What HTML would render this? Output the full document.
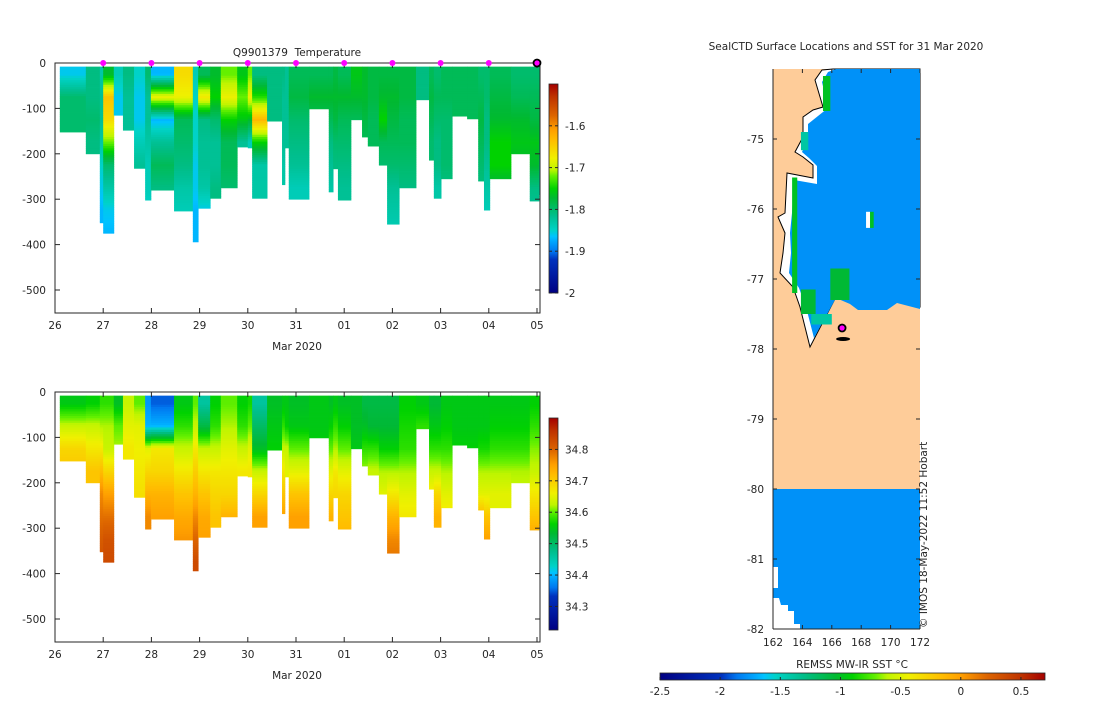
<!DOCTYPE html>
<html><head><meta charset="utf-8">
<style>
body{margin:0;background:#fff;}
svg text{font-family:"DejaVu Sans","Liberation Sans",sans-serif;font-size:10.5px;fill:#262626;white-space:pre;}
</style></head>
<body>
<svg id="fig" width="1100" height="700" viewBox="0 0 1100 700" xmlns="http://www.w3.org/2000/svg">
<defs>
<linearGradient id="cbV" x1="0" y1="1" x2="0" y2="0"></linearGradient>
<linearGradient id="cbH" x1="0" y1="0" x2="1" y2="0"></linearGradient>
</defs>
<g id="top"></g>
<g id="bot"></g>
<g id="map"></g>
</svg>
<script>
// ---------- data ----------
const profDays = [0.10,0.64,0.93,1.00,1.22,1.41,1.64,1.87,1.99,2.47,2.86,2.97,3.22,3.44,3.78,4.00,4.09,4.40,4.71,4.77,4.85,5.27,5.68,5.77,5.87,6.14,6.37,6.49,6.72,6.89,7.14,7.49,7.76,7.86,8.01,8.24,8.55,8.78,8.90,9.02,9.46,9.85,10.04];
const profEnd = 10.06;
const profDepth = [152,200,352,375,115,148,232,302,280,326,394,320,298,275,185,187,298,128,268,187,300,101,284,233,302,125,163,183,225,355,275,81,214,298,255,117,123,260,324,255,200,304,290];
const tempBins = [
[-1.86,-1.8,-1.8,-1.8],[-1.81,-1.81,-1.8,-1.81],[-1.83,-1.82,-1.82,-1.83,-1.85,-1.86,-1.87,-1.87],
[-1.77,-1.64,-1.66,-1.72,-1.8,-1.83,-1.86,-1.87],[-1.84,-1.86,-1.86],[-1.81,-1.82,-1.82],
[-1.85,-1.86,-1.86,-1.84,-1.82],[-1.8,-1.82,-1.82,-1.83,-1.84,-1.84,-1.85],[-1.87,-1.68,-1.87,-1.82,-1.79,-1.81],
[-1.66,-1.68,-1.79,-1.8,-1.81,-1.83,-1.84],[-1.84,-1.85,-1.85,-1.85,-1.86,-1.86,-1.87,-1.87],[-1.79,-1.67,-1.81,-1.82,-1.82,-1.83,-1.86],
[-1.77,-1.75,-1.8,-1.82,-1.82,-1.81],[-1.72,-1.68,-1.75,-1.79,-1.79,-1.8],[-1.76,-1.72,-1.76,-1.82],
[-1.72,-1.68,-1.77,-1.84],[-1.81,-1.74,-1.63,-1.75,-1.83,-1.83],[-1.81,-1.81,-1.81],
[-1.81,-1.82,-1.82,-1.82,-1.83,-1.83],[-1.82,-1.82,-1.82,-1.82],[-1.79,-1.78,-1.8,-1.81,-1.82,-1.84],
[-1.79,-1.77,-1.79],[-1.79,-1.77,-1.79,-1.81,-1.82,-1.83],[-1.78,-1.77,-1.78,-1.8,-1.81],
[-1.79,-1.77,-1.79,-1.8,-1.81,-1.82,-1.82],[-1.76,-1.77,-1.79],[-1.77,-1.77,-1.78,-1.79],
[-1.78,-1.78,-1.79,-1.79],[-1.78,-1.77,-1.75,-1.79,-1.8],[-1.78,-1.77,-1.78,-1.79,-1.8,-1.82,-1.83,-1.84],
[-1.78,-1.78,-1.79,-1.79,-1.8,-1.81],[-1.81,-1.81],[-1.79,-1.78,-1.79,-1.8,-1.8],
[-1.8,-1.79,-1.8,-1.81,-1.81,-1.83],[-1.79,-1.79,-1.8,-1.8,-1.8,-1.81],[-1.79,-1.79,-1.79],
[-1.79,-1.79,-1.79],[-1.8,-1.79,-1.78,-1.79,-1.8,-1.81],[-1.8,-1.8,-1.81,-1.81,-1.82,-1.83,-1.84],
[-1.79,-1.78,-1.77,-1.75,-1.75,-1.78],[-1.8,-1.79,-1.77,-1.76,-1.77],[-1.8,-1.79,-1.78,-1.76,-1.77,-1.81,-1.82],
[-1.8,-1.79,-1.78,-1.79,-1.81,-1.82]];
const salBins = [
[34.55,34.63,34.69,34.71],[34.56,34.63,34.67,34.71],[34.58,34.62,34.67,34.72,34.77,34.79,34.81,34.82],
[34.58,34.62,34.63,34.69,34.75,34.79,34.82,34.83],[34.54,34.6,34.62],[34.63,34.65,34.67],
[34.6,34.65,34.66,34.67,34.68],[34.38,34.4,34.65,34.69,34.73,34.77,34.77],[34.35,34.4,34.67,34.69,34.73,34.75],
[34.55,34.58,34.63,34.67,34.71,34.74,34.76],[34.6,34.63,34.67,34.7,34.73,34.77,34.8,34.83],[34.46,34.52,34.63,34.67,34.71,34.74,34.75],
[34.56,34.58,34.63,34.67,34.69,34.71],[34.6,34.62,34.65,34.67,34.69,34.73],[34.56,34.58,34.63,34.67],
[34.57,34.6,34.65,34.67],[34.46,34.5,34.54,34.63,34.69,34.75],[34.54,34.55,34.56],
[34.55,34.58,34.63,34.67,34.71,34.75],[34.55,34.56,34.63,34.65],[34.54,34.55,34.6,34.65,34.71,34.75],
[34.55,34.55,34.56],[34.54,34.56,34.6,34.65,34.69,34.73],[34.55,34.58,34.62,34.67,34.69],
[34.54,34.56,34.6,34.65,34.69,34.71,34.73],[34.54,34.54,34.55],[34.52,34.54,34.58,34.62],
[34.52,34.53,34.58,34.63],[34.52,34.53,34.56,34.62,34.65],[34.52,34.53,34.56,34.62,34.67,34.73,34.77,34.79],
[34.56,34.57,34.58,34.62,34.65,34.67],[34.55,34.58],[34.53,34.55,34.58,34.63,34.67],
[34.53,34.55,34.58,34.63,34.69,34.73],[34.55,34.56,34.58,34.62,34.65,34.67],[34.55,34.55,34.56],
[34.55,34.55,34.56],[34.55,34.55,34.57,34.62,34.65,34.73],[34.55,34.55,34.57,34.62,34.65,34.71,34.75],
[34.55,34.56,34.58,34.62,34.65,34.65],[34.55,34.56,34.58,34.62,34.63],[34.56,34.58,34.61,34.63,34.67,34.71,34.75],
[34.56,34.58,34.61,34.63,34.67,34.71]];
const dayLabels = ["26","27","28","29","30","31","01","02","03","04","05"];
const depthTicks = [0,-100,-200,-300,-400,-500];
const tempTicks = [-1.6,-1.7,-1.8,-1.9,-2];
const salTicks = [34.8,34.7,34.6,34.5,34.4,34.3];
const markerDays = [1,2,3,4,5,6,7,8,9];
const lastMarkerDay = 10;
const latTicks = [-75,-76,-77,-78,-79,-80,-81,-82];
const lonTicks = [162,164,166,168,170,172];
const sstTicks = [-2.5,-2,-1.5,-1,-0.5,0,0.5];
const oceanSST = -1.78;
// [lon0, lat0, lon1, lat1, sst]
const sstCells = [
[163.3,-75.55,163.65,-77.2,-1.0],[165.4,-74.1,165.9,-74.6,-1.0],[163.9,-74.9,164.4,-75.16,-1.4],
[163.9,-77.15,164.9,-77.5,-1.05],[165.9,-76.85,167.2,-77.3,-1.05],[164.6,-77.5,166.0,-77.65,-1.4],
[168.6,-76.04,168.85,-76.27,-1.0]];
const whiteCells = [[168.33,-76.04,168.6,-76.27]];
const shipLon = 166.7, shipLat = -77.7;

// ---------- helpers ----------
const NS="http://www.w3.org/2000/svg";
const stops=[[0,[0,0,130]],[0.16,[0,50,190]],[0.2,[0,120,240]],[0.25,[0,170,255]],[0.27,[0,195,255]],[0.3,[0,210,200]],[0.37,[0,190,140]],[0.455,[0,185,50]],[0.5,[0,210,0]],[0.56,[100,240,0]],[0.59,[190,245,0]],[0.645,[240,240,0]],[0.73,[255,190,0]],[0.78,[255,160,0]],[0.85,[220,100,0]],[0.94,[190,50,0]],[1,[165,0,0]]];
function cmap(t){t=Math.max(0,Math.min(1,t));for(let i=1;i<stops.length;i++){if(t<=stops[i][0]){const a=stops[i-1],b=stops[i],f=(t-a[0])/(b[0]-a[0]);return 'rgb('+a[1].map((v,k)=>Math.round(v+(b[1][k]-v)*f)).join(',')+')';}}return 'rgb(165,0,0)';}
function mk(tag,attrs,parent,txt){const e=document.createElementNS(NS,tag);for(const k in attrs)e.setAttribute(k,attrs[k]);if(txt!==undefined)e.textContent=txt;parent.appendChild(e);return e;}
['cbV','cbH'].forEach(id=>{const g=document.getElementById(id);stops.forEach(s=>mk('stop',{offset:s[0],'stop-color':cmap(s[0])},g));});

const X0=55,X1=540,PX=48.2;
const xD=d=>X0+d*PX;
function panel(gid,top,bins,vmin,vmax,cbTicks,cbTop,cbBot,title,name){
  const g=document.getElementById(gid);
  const yD=z=>top+z*0.454;
  const bottom=top+250;
  const data=mk('g',{},g);
  
  
  for(let i=0;i<profDays.length;i++){
    const x0=xD(profDays[i]),x1=xD(i+1<profDays.length?profDays[i+1]:profEnd);
    const b=bins[i],dep=profDepth[i];
    const col=mk('g',{},data);
    
    
    for(let z=8;z<dep;z+=5){
      const zc=z+2.5;let f=(zc-25)/50;let k=Math.floor(f);let v;
      if(k<0)v=b[0];else if(k>=b.length-1)v=b[b.length-1];else v=b[k]+(b[k+1]-b[k])*(f-k);
      const ze=Math.min(z+5,dep);
      mk('rect',{x:x0,y:yD(z),width:x1-x0+0.4,height:yD(ze)-yD(z)+0.4,fill:cmap((v-vmin)/(vmax-vmin))},col);
    }
  }
  const ax=mk('g',{fill:'none',stroke:'#262626','stroke-width':1},g);
  
  
  mk('rect',{x:X0,y:top,width:X1-X0,height:250},ax);
  dayLabels.forEach((l,i)=>{const x=xD(i);mk('line',{x1:x,x2:x,y1:top,y2:top+5},ax);mk('line',{x1:x,x2:x,y1:bottom,y2:bottom-5},ax);
    const t=mk('text',{x:x,y:bottom+16,'text-anchor':'middle'},g,l);});
  depthTicks.forEach(d=>{const y=yD(-d);mk('line',{x1:X0,x2:X0+5,y1:y,y2:y},ax);mk('line',{x1:X1,x2:X1-5,y1:y,y2:y},ax);
    const t=mk('text',{x:X0-9,y:y+4,'text-anchor':'end'},g,String(d));});
  const xl=mk('text',{x:297,y:bottom+37,'text-anchor':'middle'},g,'Mar 2020');
  if(title){const t=mk('text',{x:297,y:top-7,'text-anchor':'middle'},g,title);}
  const cb=mk('g',{},g);
  mk('rect',{x:549,y:cbTop,width:9,height:cbBot-cbTop,fill:'url(#cbV)',stroke:'#262626','stroke-width':0.8},cb);
  cbTicks.forEach(v=>{const y=cbBot-(v-vmin)/(vmax-vmin)*(cbBot-cbTop);mk('line',{x1:555,x2:558,y1:y,y2:y,stroke:'#262626'},cb);mk('line',{x1:549,x2:552,y1:y,y2:y,stroke:'#262626'},cb);
    const t=mk('text',{x:565,y:y+4},cb,String(v));});
}
panel('top',63,tempBins,-2.0,-1.5,tempTicks,84,293,'Q9901379  Temperature','temperature');
panel('bot',392,salBins,34.225,34.9,salTicks,418,630,null,'salinity');
const tg=document.getElementById('top');
markerDays.forEach(d=>{const c=mk('circle',{cx:xD(d),cy:63,r:3,fill:'#ff00ff'},tg);});
const lm=mk('circle',{cx:xD(lastMarkerDay),cy:63,r:3.5,fill:'#ff00ff',stroke:'#000','stroke-width':1.8},tg);


// ---------- map ----------
const mg=document.getElementById('map');
const MX0=773,MX1=920,MY0=69,MY1=629;
const lonX=l=>MX0+(l-162)*14.7, latY=l=>MY0+(-74-l)*70;
const sstMin=-2.5,sstMax=0.7;
const sc=v=>cmap((v-sstMin)/(sstMax-sstMin));
const land=mk('rect',{x:MX0,y:MY0,width:MX1-MX0,height:latY(-80)-MY0,fill:'#fecc99'},mg);

const south=mk('rect',{x:MX0,y:latY(-80),width:MX1-MX0,height:MY1-latY(-80),fill:sc(oceanSST)},mg);

const notch=mk('polygon',{points:'773,567 778,567 778,588 773,588 773,598 779,598 781,605 788,605 788,611 794,611 794,624 800,624 800,629 773,629',fill:'#fff'},mg);

const coastPts='833,69 822,70 815,80 823,107 813,110 803,117 803,137 795,152 803,157 813,165 813,178 787,173 785,213 778,217 785,233 783,253 780,273 793,287 800,307 810,347 838,293 848,300 857,307 887,307 897,300 920,307 920,69';
const ow=mk('polygon',{points:coastPts,fill:'#fff',stroke:'#000','stroke-width':1},mg);

const ocean=mk('polygon',{points:'836,69 828,72 822,82 828,108 818,116 808,124 808,138 802,152 809,158 817,166 817,184 794,180 792,213 790,233 791,253 789,273 799,288 806,307 814,338 836,298 850,304 858,310 887,310 897,303 920,309 920,69',fill:sc(oceanSST)},mg);

sstCells.forEach(c=>{const r=mk('rect',{x:lonX(c[0]),y:latY(c[1]),width:lonX(c[2])-lonX(c[0]),height:latY(c[3])-latY(c[1]),fill:sc(c[4])},mg);
  });
whiteCells.forEach(c=>{const r=mk('rect',{x:lonX(c[0]),y:latY(c[1]),width:lonX(c[2])-lonX(c[0]),height:latY(c[3])-latY(c[1]),fill:'#fff'},mg);
  });
const trk=mk('ellipse',{cx:lonX(shipLon)+1,cy:latY(shipLat)+11,rx:7,ry:2,fill:'#000'},mg);

const sm=mk('circle',{cx:lonX(shipLon),cy:latY(shipLat),r:3.5,fill:'#ff00ff',stroke:'#000','stroke-width':1.8},mg);

const max=mk('g',{fill:'none',stroke:'#262626','stroke-width':1},mg);

mk('line',{x1:MX0,x2:MX0,y1:MY0,y2:MY1},max);mk('line',{x1:MX0,x2:MX1,y1:MY1,y2:MY1},max);
latTicks.forEach(l=>{const y=latY(l);mk('line',{x1:MX0,x2:MX0+4,y1:y,y2:y},max);mk('line',{x1:MX1,x2:MX1-4,y1:y,y2:y},max);
  const t=mk('text',{x:MX0-9,y:y+4,'text-anchor':'end'},mg,String(l));});
lonTicks.forEach(l=>{const x=lonX(l);mk('line',{x1:x,x2:x,y1:MY1,y2:MY1-4},max);mk('line',{x1:x,x2:x,y1:MY0,y2:MY0+4},max);
  const t=mk('text',{x:x,y:MY1+17,'text-anchor':'middle'},mg,String(l));});
const mt=mk('text',{x:846,y:50,'text-anchor':'middle'},mg,'SealCTD Surface Locations and SST for 31 Mar 2020');

const cr=mk('text',{x:0,y:0,transform:'translate(927,628) rotate(-90)','font-size':'9.5px'},mg,'© IMOS 18-May-2022 11:52 Hobart');

const CB0=660,CB1=1045;
const hx=v=>CB0+(v-sstMin)/(sstMax-sstMin)*(CB1-CB0);
const hcb=mk('g',{},mg);
mk('rect',{x:CB0,y:673,width:CB1-CB0,height:7,fill:'url(#cbH)',stroke:'#262626','stroke-width':0.8},hcb);
sstTicks.forEach(v=>{const x=hx(v);mk('line',{x1:x,x2:x,y1:680,y2:677,stroke:'#262626'},hcb);
  const t=mk('text',{x:x,y:695,'text-anchor':'middle'},hcb,String(v));});
const cl=mk('text',{x:852,y:668,'text-anchor':'middle'},mg,'REMSS MW-IR SST °C');

</script>
</body></html>
